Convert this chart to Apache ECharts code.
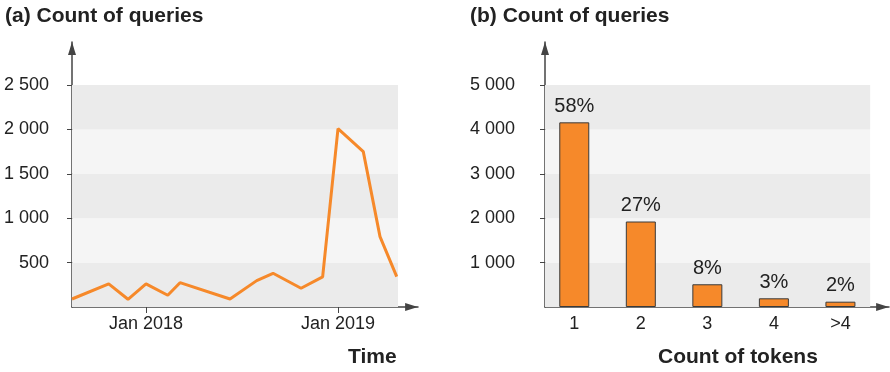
<!DOCTYPE html>
<html>
<head>
<meta charset="utf-8">
<script src="https://cdn.jsdelivr.net/npm/echarts@6/dist/echarts.min.js"></script>
<style>
  html, body { margin: 0; padding: 0; background: #fff; }
  #main { width: 890px; height: 372px; }
</style>
</head>
<body>
<div id="main"></div>
<script>
// (a) months since Jan 2017
var months = [7.375, 9.67, 10.875, 12, 13.36, 14.125, 17.25, 18.92, 19.94, 21.69, 23.04, 24, 25.58, 26.625, 27.67];
var queries = [90, 260, 87, 260, 132, 274, 90, 297, 380, 211, 339, 2009, 1750, 793, 342];
var timeTicks = [12, 24];
var timeLabels = ["Jan 2018", "Jan 2019"];
var leftTicks = [500, 1000, 1500, 2000, 2500];

// (b)
var tokenCats = ["1", "2", "3", "4", ">4"];
var tokenCounts = [4160, 1926, 512, 196, 120];
var tokenPct = ["58%", "27%", "8%", "3%", "2%"];
var rightTicks = [1000, 2000, 3000, 4000, 5000];

var font = "'Liberation Sans', Arial, Helvetica, sans-serif";
var dark = "#ebebeb", light = "#f5f5f5";
var orange = "#f6892a";
var axisCol = "#444";

function bands(edges, x0, x1) {
  var out = [];
  for (var i = 0; i < edges.length - 1; i++) {
    out.push([
      { xAxis: x0, yAxis: edges[i], itemStyle: { color: i % 2 === 0 ? dark : light } },
      { xAxis: x1, yAxis: edges[i + 1] }
    ]);
  }
  return out;
}

function axisLine() {
  return {
    show: true,
    lineStyle: { color: axisCol, width: 1.5 },
    symbol: ["none", "path://M5,0 L10,16 L0,16 Z"],
    symbolSize: [8, 13],
    symbolOffset: [0, -6.5]
  };
}

function spaced(v) {
  return String(v).replace(/\B(?=(\d{3})+$)/g, " ");
}

var myChart = echarts.init(document.getElementById("main"));

var titleStyle = { fontSize: 21, fontWeight: "bold", color: "#222", fontFamily: font };

var option = {
  animation: false,
  textStyle: { fontFamily: font },
  title: [
    { text: "(a) Count of queries", left: 5, top: 6, padding: 0, textStyle: titleStyle },
    { text: "(b) Count of queries", left: 470, top: 6, padding: 0, textStyle: titleStyle },
    { text: "Time", left: 348, top: 347, padding: 0, textStyle: titleStyle },
    { text: "Count of tokens", left: 658, top: 347, padding: 0, textStyle: titleStyle }
  ],
  grid: [
    { left: 72, top: 42, right: 472, bottom: 65 },
    { left: 545, top: 42, right: 1, bottom: 65 }
  ],
  xAxis: [
    {
      gridIndex: 0, type: "value", min: 7.375, max: 29,
      axisLine: axisLine(),
      splitLine: { show: false },
      axisTick: { show: true, customValues: timeTicks, length: 6, lineStyle: { color: axisCol } },
      axisLabel: {
        customValues: timeTicks, margin: 8, fontSize: 18, color: "#222", fontFamily: font,
        formatter: function(v) { return timeLabels[timeTicks.indexOf(v)] || ""; }
      }
    },
    {
      gridIndex: 1, type: "value", min: 0.56, max: 5.73,
      axisLine: axisLine(),
      splitLine: { show: false },
      axisTick: { show: false },
      axisLabel: {
        customValues: [1, 2, 3, 4, 5], margin: 8, fontSize: 18, color: "#222", fontFamily: font,
        formatter: function(v) { return tokenCats[v - 1] || ""; }
      }
    }
  ],
  yAxis: [
    {
      gridIndex: 0, type: "value", min: 0, max: 2985,
      axisLine: axisLine(),
      splitLine: { show: false },
      axisTick: { show: true, customValues: leftTicks, length: 5, lineStyle: { color: axisCol } },
      axisLabel: {
        customValues: leftTicks, margin: 23, fontSize: 18, color: "#222", fontFamily: font,
        formatter: spaced
      }
    },
    {
      gridIndex: 1, type: "value", min: 0, max: 5970,
      axisLine: axisLine(),
      splitLine: { show: false },
      axisTick: { show: true, customValues: rightTicks, length: 5, lineStyle: { color: axisCol } },
      axisLabel: {
        customValues: rightTicks, margin: 30, fontSize: 18, color: "#222", fontFamily: font,
        formatter: spaced
      }
    }
  ],
  series: [
    {
      // background bands (a)
      type: "line", xAxisIndex: 0, yAxisIndex: 0, data: [], z: 1, silent: true,
      markArea: { silent: true, data: bands([0].concat(leftTicks), 7.375, 27.75) }
    },
    {
      name: "queries", type: "line", xAxisIndex: 0, yAxisIndex: 0, z: 3,
      data: months.map(function(m, i) { return [m, queries[i]]; }),
      showSymbol: false, symbol: "none",
      lineStyle: { color: orange, width: 3 }
    },
    {
      // background bands (b)
      type: "line", xAxisIndex: 1, yAxisIndex: 1, data: [], z: 1, silent: true,
      markArea: { silent: true, data: bands([0].concat(rightTicks), 0.56, 5.447) }
    },
    {
      name: "tokens", type: "bar", xAxisIndex: 1, yAxisIndex: 1, z: 3,
      barWidth: 30,
      data: tokenCounts.map(function(v, i) { return [i + 1, v]; }),
      itemStyle: { color: orange, borderColor: "#3a3a3a", borderWidth: 1 },
      label: {
        show: true, position: "top", distance: 6, fontSize: 20, color: "#222", fontFamily: font,
        formatter: function(p) { return tokenPct[p.dataIndex]; }
      }
    }
  ]
};
myChart.setOption(option);
</script>
</body>
</html>
